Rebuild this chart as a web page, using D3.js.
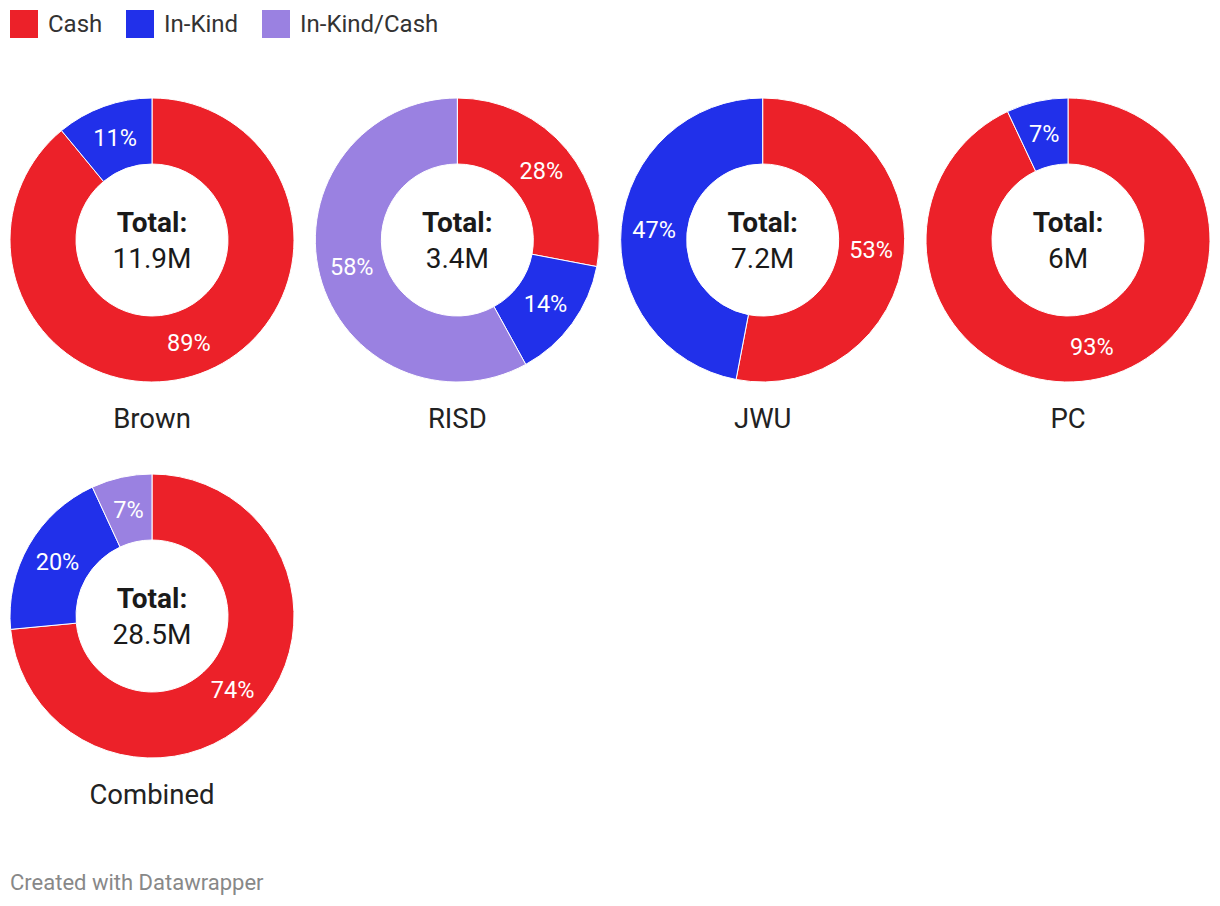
<!DOCTYPE html>
<html>
<head>
<meta charset="utf-8">
<script src="https://cdn.jsdelivr.net/npm/d3@7"></script>
<style>
  body { margin: 0; background: #fff; font-family: Roboto, sans-serif; }
  svg text { font-family: Roboto, sans-serif; }
</style>
</head>
<body>
<svg width="1220" height="906"></svg>
<script>
// data (shares in percent, totals in millions)
var categories = ["Cash", "In-Kind", "In-Kind/Cash"];
var colors = ["#ec2129", "#2130ea", "#9a81e1"];
var schools = ["Brown", "RISD", "JWU", "PC", "Combined"];
var totals = ["11.9M", "3.4M", "7.2M", "6M", "28.5M"];
var cashShare = [89, 28, 53, 93, 73.5];
var inKindShare = [11, 14, 47, 7, 19.6];
var mixedShare = [0, 58, 0, 0, 6.9];

var svg = d3.select("svg");
var outerR = 142, innerR = 76;

var color = d3.scaleOrdinal().domain(categories).range(colors);

// grid positions of the donuts
var colX = d3.scalePoint().domain([0, 1, 2, 3]).range([152, 1068]);
var rowY = d3.scalePoint().domain([0, 1]).range([240, 616]);

// legend
var legend = svg.append("g").attr("transform", "translate(10,10)");
var legX = [0, 116, 252];
categories.forEach(function(c, i) {
  var g = legend.append("g").attr("transform", "translate(" + legX[i] + ",0)");
  g.append("rect").attr("width", 28).attr("height", 28).attr("fill", color(c));
  g.append("text").attr("x", 38).attr("y", 22)
    .attr("font-size", 24).attr("fill", "#333").text(c);
});

var pie = d3.pie().sort(null).value(function(d) { return d.value; });
var arc = d3.arc().innerRadius(innerR).outerRadius(outerR);
var labelArc = d3.arc().innerRadius((innerR + outerR) / 2).outerRadius((innerR + outerR) / 2);

schools.forEach(function(s, i) {
  var rows = [
    { key: "Cash", value: cashShare[i] },
    { key: "In-Kind", value: inKindShare[i] },
    { key: "In-Kind/Cash", value: mixedShare[i] }
  ].filter(function(d) { return d.value > 0; });

  var g = svg.append("g")
    .attr("transform", "translate(" + colX(i % 4) + "," + rowY(Math.floor(i / 4)) + ")");

  var slices = pie(rows);

  g.selectAll("path").data(slices).enter().append("path")
    .attr("d", arc)
    .attr("fill", function(d) { return color(d.data.key); })
    .attr("stroke", "#fff")
    .attr("stroke-width", 1);

  g.selectAll("text.pct").data(slices).enter().append("text")
    .attr("class", "pct")
    .attr("transform", function(d) { return "translate(" + labelArc.centroid(d) + ")"; })
    .attr("text-anchor", "middle")
    .attr("dy", "0.35em")
    .attr("font-size", 23.5)
    .attr("fill", "#fff")
    .text(function(d) { return Math.round(d.data.value) + "%"; });

  g.append("text").attr("text-anchor", "middle").attr("y", -8)
    .attr("font-size", 28).attr("font-weight", "bold").attr("fill", "#1a1a1a")
    .text("Total:");
  g.append("text").attr("text-anchor", "middle").attr("y", 28)
    .attr("font-size", 28).attr("fill", "#1a1a1a")
    .text(totals[i]);

  g.append("text").attr("text-anchor", "middle").attr("y", 188)
    .attr("font-size", 27.5).attr("fill", "#222")
    .text(s);
});

svg.append("text").attr("x", 10).attr("y", 890)
  .attr("font-size", 22).attr("fill", "#888")
  .text("Created with Datawrapper");
</script>
</body>
</html>
